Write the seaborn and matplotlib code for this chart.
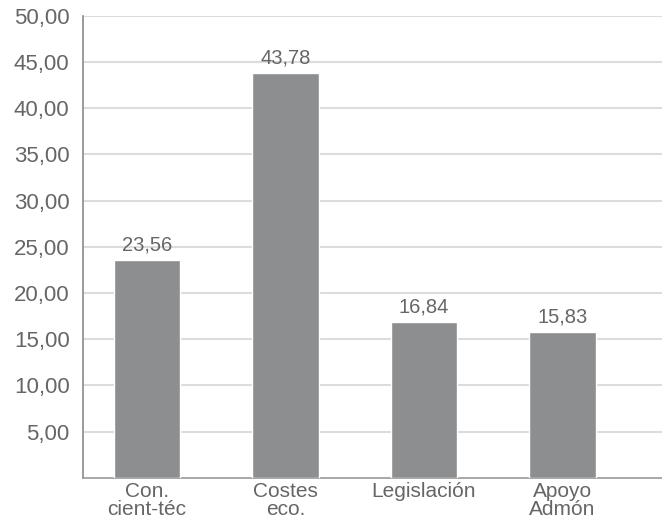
import matplotlib
matplotlib.use("Agg")
import matplotlib.pyplot as plt
import seaborn as sns
import pandas as pd

# Obstacles and their scores
categories = ["Con.\ncient-téc", "Costes\neco.", "Legislación", "Apoyo\nAdmón"]
values = [23.56, 43.78, 16.84, 15.83]
yticks = [5, 10, 15, 20, 25, 30, 35, 40, 45, 50]

df = pd.DataFrame({"categoria": categories, "valor": values})

sns.set_theme(style="white")
plt.rcParams["font.family"] = ["Liberation Sans", "DejaVu Sans"]

text_color = "#666666"
bar_color = "#8d8e90"

fig = plt.figure(figsize=(6.62, 5.24), dpi=100)
ax = fig.add_axes([0.126, 0.088, 0.874, 0.882])

sns.barplot(data=df, x="categoria", y="valor", color=bar_color,
            width=0.48, saturation=1, ax=ax, zorder=3)

ax.set_ylim(0, 50)
ax.set_xlim(-0.46, 3.72)
ax.set_yticks(yticks)
ax.set_yticklabels([f"{t:.2f}".replace(".", ",") for t in yticks])
ax.yaxis.grid(True, color="#dcdcdc", linewidth=1.5, zorder=0)
ax.set_axisbelow(True)

ax.set_xlabel("")
ax.set_ylabel("")
ax.tick_params(axis="y", length=0, pad=10, labelsize=16, labelcolor=text_color)
ax.tick_params(axis="x", length=0, pad=3, labelsize=15, labelcolor=text_color)
for lbl in ax.get_xticklabels():
    lbl.set_linespacing(0.95)

for side in ("top", "right"):
    ax.spines[side].set_visible(False)
ax.spines["left"].set_color("#8a8a8a")
ax.spines["left"].set_linewidth(1.2)
ax.spines["bottom"].set_color("#9a9a9a")
ax.spines["bottom"].set_linewidth(1.2)

for container in ax.containers:
    ax.bar_label(container,
                 labels=[f"{v:.2f}".replace(".", ",") for v in values],
                 padding=4, fontsize=14.5, color=text_color)

fig.savefig("out.png", dpi=100)
